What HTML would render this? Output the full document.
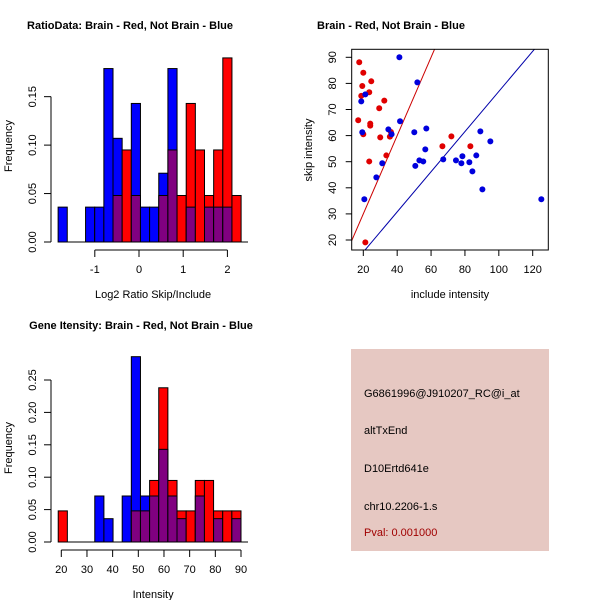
<!DOCTYPE html>
<html><head><meta charset="utf-8"><style>
html,body{margin:0;padding:0;background:#fff;}
svg{display:block;font-family:"Liberation Sans",sans-serif;}
</style></head><body>
<svg id="c" width="600" height="600" xmlns="http://www.w3.org/2000/svg">
<rect x="351" y="349" width="198" height="202" fill="#e6c8c2"/>
<g font-size="11">
<text x="364" y="397">G6861996@J910207_RC@i_at</text>
<text x="364" y="434">altTxEnd</text>
<text x="364" y="472">D10Ertd641e</text>
<text x="364" y="510">chr10.2206-1.s</text>
<text x="364" y="536" fill="#a00000">Pval: 0.001000</text>
</g>
</svg>
<script>
// ---- Ratio histogram data ----
const ratioBinStart = -1.83;
const ratioBinWidth = 0.207;
const ratioRed  = [0,0,0,0,0,0,0.048,0.095,0.048,0,0,0.048,0.095,0.048,0.143,0.095,0.048,0.095,0.190,0.048];
const ratioBlue = [0.036,0,0,0.036,0.036,0.179,0.107,0,0.143,0.036,0.036,0.071,0.179,0,0.036,0,0.036,0.036,0.036,0];
const ratioXTicks = [-1,0,1,2];
const ratioYTicks = [0,0.05,0.10,0.15];
const ratioYLabels = ["0.00","0.05","0.10","0.15"];
// ---- Intensity histogram data ----
const intBinStart = 18.8;
const intBinWidth = 3.56;
const intRed  = [0.048,0,0,0,0,0,0,0,0.048,0.048,0.095,0.238,0.095,0.048,0.048,0.095,0.095,0.048,0.048,0.048];
const intBlue = [0,0,0,0,0.071,0.036,0,0.071,0.286,0.071,0.071,0.143,0.071,0.036,0,0.071,0,0.036,0,0.036];
const intXTicks = [20,30,40,50,60,70,80,90];
const intYTicks = [0,0.05,0.10,0.15,0.20,0.25];
const intYLabels = ["0.00","0.05","0.10","0.15","0.20","0.25"];
// ---- Scatter data ----
const redX = [17.6,20.0,19.4,24.7,18.8,23.5,17.0,29.4,32.4,24.1,24.1,30.0,20.0,36.3,35.7,33.6,23.5,21.2,66.7,72.0,83.2];
const redY = [88.1,84.1,79.0,80.8,75.2,76.6,65.9,70.5,73.4,64.6,63.8,59.3,60.5,61.4,59.6,52.4,50.1,19.1,55.9,59.7,55.9];
const blueX = [41.3,51.9,21.2,18.8,19.4,41.7,34.8,36.7,57.2,50.1,56.6,31.2,27.7,20.6,50.7,53.1,55.4,67.2,74.7,77.9,78.5,82.6,86.7,84.4,89.1,95.0,90.3,125.1];
const blueY = [90.0,80.4,75.8,73.1,61.3,65.5,62.4,60.5,62.7,61.3,54.7,49.4,44.0,35.6,48.4,50.5,50.1,50.9,50.5,49.4,52.1,49.8,52.4,46.3,61.6,57.8,39.4,35.6];
const scXTicks = [20,40,60,80,100,120];
const scYTicks = [20,30,40,50,60,70,80,90];
const redSlope = 1.5;
const blueSlope = 1/1.3;

const svg = document.getElementById('c');
const NS = 'http://www.w3.org/2000/svg';
function mk(tag, attrs, parent){
  const e = document.createElementNS(NS, tag);
  for (const k in attrs) e.setAttribute(k, attrs[k]);
  (parent||svg).appendChild(e);
  return e;
}
function txt(s, x, y, attrs, parent){
  const t = mk('text', Object.assign({x:x, y:y}, attrs), parent);
  t.textContent = s;
  return t;
}

function histogram(cfg){
  const g = mk('g', {});
  
  
  const sx = v => cfg.x0 + (v - cfg.xref) * cfg.xs;
  const sy = v => cfg.y0 - v * cfg.ys;
  for (let i = 0; i < cfg.red.length; i++) {
    const a = cfg.binStart + i*cfg.binWidth, b = a + cfg.binWidth;
    const x1 = sx(a), x2 = sx(b);
    const r = cfg.red[i], bl = cfg.blue[i];
    const hi = Math.max(r, bl), lo = Math.min(r, bl);
    if (hi > 0) {
      const bar = mk('rect', {x:x1, y:sy(hi), width:x2-x1, height:sy(0)-sy(hi), fill: r>bl?'#ff0000':'#0000ff', stroke:'#000', 'stroke-width':1}, g);
      
      
    }
    if (lo > 0) {
      const ov = mk('rect', {x:x1, y:sy(lo), width:x2-x1, height:sy(0)-sy(lo), fill:'#800080', stroke:'#000', 'stroke-width':1}, g);
      
      
    }
  }
  mk('line', {x1:sx(cfg.binStart), x2:cfg.baseEnd, y1:sy(0), y2:sy(0), stroke:'#000'}, g);
  const ya = mk('g', {}, g);
  
  
  const yt = cfg.yTicks;
  mk('line', {x1:51, x2:51, y1:sy(yt[0]), y2:sy(yt[yt.length-1]), stroke:'#000'}, ya);
  yt.forEach((v, i) => {
    mk('line', {x1:44, x2:51, y1:sy(v), y2:sy(v), stroke:'#000'}, ya);
    const t = txt(cfg.yLabels[i], 0, 0, {'font-size':11, 'text-anchor':'middle', transform:`translate(36,${sy(v)}) rotate(-90)`}, ya);
    
    
  });
  const xa = mk('g', {}, g);
  
  
  const xt = cfg.xTicks;
  mk('line', {x1:sx(xt[0]), x2:sx(xt[xt.length-1]), y1:cfg.axisY, y2:cfg.axisY, stroke:'#000'}, xa);
  xt.forEach(v => {
    mk('line', {x1:sx(v), x2:sx(v), y1:cfg.axisY, y2:cfg.axisY+7, stroke:'#000'}, xa);
    const t = txt(String(v), sx(v), cfg.axisY+23, {'font-size':11, 'text-anchor':'middle'}, xa);
    
    
  });
  const xl = txt(cfg.xlabel, (sx(cfg.binStart)+cfg.baseEnd)/2, cfg.axisY+48, {'font-size':11, 'text-anchor':'middle'}, g);
  
  
  const yl = txt('Frequency', 0, 0, {'font-size':11, 'text-anchor':'middle', transform:`translate(12,${cfg.ylabelY}) rotate(-90)`}, g);
  
  
  const tt = txt(cfg.title, cfg.titleX, cfg.titleY, {'font-size':11, 'font-weight':'bold', 'text-anchor':'middle'}, g);
  
  
}

histogram({name:'ratio-histogram', red:ratioRed, blue:ratioBlue, binStart:ratioBinStart, binWidth:ratioBinWidth,
  x0:139, xref:0, xs:44.2, y0:242, ys:968.9, baseEnd:248, axisY:250,
  xTicks:ratioXTicks, yTicks:ratioYTicks, yLabels:ratioYLabels,
  xlabel:'Log2 Ratio Skip/Include', ylabelY:146, title:'RatioData: Brain - Red, Not Brain - Blue', titleX:130, titleY:29});

histogram({name:'intensity-histogram', red:intRed, blue:intBlue, binStart:intBinStart, binWidth:intBinWidth,
  x0:61.3, xref:20, xs:2.567, y0:542, ys:648, baseEnd:248, axisY:550,
  xTicks:intXTicks, yTicks:intYTicks, yLabels:intYLabels,
  xlabel:'Intensity', ylabelY:448, title:'Gene Itensity: Brain - Red, Not Brain - Blue', titleX:141, titleY:329});

(function(){
  const g = mk('g', {});
  
  
  const L=351.7, R=548.3, T=49.3, B=250;
  const sx = v => 363.3 + (v-20)*1.694;
  const sy = v => 240 - (v-20)*2.61;
  const xmin = 13.15, xmax = 129.2;
  const defs = mk('defs', {}, g);
  const cp = mk('clipPath', {id:'clipSc'}, defs);
  mk('rect', {x:L, y:T, width:R-L, height:B-T}, cp);
  const lines = mk('g', {'clip-path':'url(#clipSc)'}, g);
  const rl = mk('line', {x1:sx(xmin), y1:sy(xmin*redSlope), x2:sx(xmax), y2:sy(xmax*redSlope), stroke:'#cc0000', 'stroke-width':1}, lines);
  
  
  const bl = mk('line', {x1:sx(xmin), y1:sy(xmin*blueSlope), x2:sx(xmax), y2:sy(xmax*blueSlope), stroke:'#0000aa', 'stroke-width':1}, lines);
  
  
  redX.forEach((x, i) => {
    const c = mk('circle', {cx:sx(x), cy:sy(redY[i]), r:3, fill:'#e00000'}, g);
    
    
  });
  blueX.forEach((x, i) => {
    const c = mk('circle', {cx:sx(x), cy:sy(blueY[i]), r:3, fill:'#0000dd'}, g);
    
    
  });
  const box = mk('rect', {x:L, y:T, width:R-L, height:B-T, fill:'none', stroke:'#000'}, g);
  
  
  scXTicks.forEach(v => {
    mk('line', {x1:sx(v), x2:sx(v), y1:B, y2:B+6, stroke:'#000'}, g);
    const t = txt(String(v), sx(v), B+23, {'font-size':11, 'text-anchor':'middle'}, g);
    
    
  });
  scYTicks.forEach(v => {
    mk('line', {x1:L-6, x2:L, y1:sy(v), y2:sy(v), stroke:'#000'}, g);
    const t = txt(String(v), 0, 0, {'font-size':11, 'text-anchor':'middle', transform:`translate(336,${sy(v)}) rotate(-90)`}, g);
    
    
  });
  const xl = txt('include intensity', 450, 298, {'font-size':11, 'text-anchor':'middle'}, g);
  
  
  const yl = txt('skip intensity', 0, 0, {'font-size':11, 'text-anchor':'middle', transform:'translate(312,150) rotate(-90)'}, g);
  
  
  const tt = txt('Brain - Red, Not Brain - Blue', 391, 29, {'font-size':11, 'font-weight':'bold', 'text-anchor':'middle'}, g);
  
  
})();
</script>
</body></html>
